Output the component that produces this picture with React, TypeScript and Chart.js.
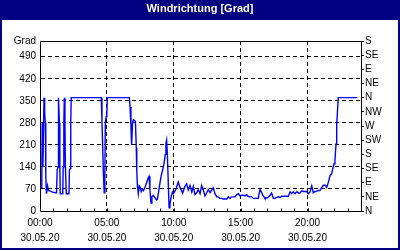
import React, { useEffect, useRef } from 'react';
import { Chart, registerables } from 'chart.js';

Chart.register(...registerables);

// time of each reading in minutes after 00:00 on 30.05.20
const minutes = [
  1, 8, 10, 13, 18, 21, 24, 26, 29, 34, 38, 47, 56, 70, 74, 77, 81, 83, 87, 89,
  91, 102, 104, 107, 109, 112, 114, 118, 130, 132, 136, 138, 140, 275, 278, 281, 284, 288, 291, 293,
  297, 300, 302, 401, 404, 408, 411, 415, 419, 428, 432, 434, 437, 441, 445, 450, 454, 459, 464, 471,
  478, 485, 489, 493, 498, 502, 509, 516, 523, 527, 535, 543, 550, 556, 562, 565, 568, 571, 575, 579,
  583, 588, 594, 598, 603, 610, 620, 628, 640, 650, 658, 665, 673, 681, 688, 695, 703, 710, 718, 725,
  733, 740, 748, 755, 763, 770, 777, 785, 793, 800, 807, 815, 822, 830, 838, 845, 852, 860, 867, 875,
  882, 890, 897, 905, 912, 920, 927, 934, 942, 950, 957, 964, 972, 979, 987, 995, 999, 1005, 1009, 1020,
  1025, 1032, 1039, 1047, 1054, 1062, 1069, 1077, 1084, 1091, 1099, 1107, 1114, 1122, 1129, 1136, 1144, 1152, 1159, 1166,
  1174, 1181, 1189, 1196, 1204, 1211, 1219, 1226, 1234, 1241, 1248, 1256, 1264, 1271, 1279, 1286, 1293, 1301, 1309, 1313,
  1319, 1323, 1328, 1331, 1334, 1338, 1424,
];

// wind direction in degrees
const degrees = [
  75, 75, 280, 140, 360, 310, 280, 110, 55, 80, 65, 63, 60, 58, 58, 130, 140, 360, 280, 140,
  55, 55, 140, 280, 360, 280, 140, 55, 55, 130, 135, 280, 360, 360, 280, 210, 130, 58, 110, 280,
  300, 310, 360, 360, 330, 270, 210, 280, 290, 285, 200, 130, 80, 55, 80, 75, 62, 70, 65, 75,
  90, 105, 110, 70, 25, 45, 50, 42, 35, 38, 75, 110, 130, 150, 180, 215, 225, 185, 100, 10,
  20, 45, 60, 55, 60, 70, 92, 75, 57, 78, 86, 67, 81, 60, 78, 52, 58, 68, 55, 81,
  66, 48, 58, 68, 58, 66, 74, 55, 45, 45, 40, 40, 38, 38, 38, 45, 40, 45, 45, 45,
  52, 55, 48, 50, 50, 48, 52, 46, 45, 45, 40, 40, 40, 40, 68, 58, 50, 45, 40, 42,
  45, 50, 57, 40, 40, 43, 45, 43, 47, 47, 47, 47, 47, 61, 55, 61, 55, 61, 57, 57,
  64, 62, 62, 62, 55, 60, 80, 58, 62, 63, 65, 65, 75, 82, 82, 75, 90, 112, 120, 133,
  150, 160, 213, 277, 310, 360, 360,
];

const hourTicks = [0, 5, 10, 15, 20];
const dateLabel = '30.05.20';
const leftTicks = [0, 70, 140, 210, 280, 350, 420, 490];
const leftUnitLabel = 'Grad';
const compass = ['N', 'NE', 'E', 'SE', 'S', 'SW', 'W', 'NW', 'N', 'NE', 'E', 'SE', 'S'];
const title = 'Windrichtung [Grad]';

const NAVY = '#000080';
const AXIS_MAX = 540;

export default function App() {
  const ref = useRef<HTMLCanvasElement>(null);

  useEffect(() => {
    document.body.style.margin = '0';
    const canvas = ref.current;
    if (!canvas) return;

    const framePlugin = {
      id: 'frame',
      beforeDraw(chart: any) {
        const ctx = chart.ctx;
        ctx.save();
        ctx.fillStyle = '#ffffff';
        ctx.fillRect(0, 0, chart.width, chart.height);
        ctx.fillStyle = NAVY;
        ctx.fillRect(0, 0, chart.width, 20);
        ctx.strokeStyle = NAVY;
        ctx.lineWidth = 2;
        ctx.strokeRect(1, 1, chart.width - 2, chart.height - 2);
        ctx.restore();
      },
      afterDraw(chart: any) {
        const ctx = chart.ctx;
        const a = chart.chartArea;
        const xs = chart.scales.x;
        ctx.save();
        ctx.strokeStyle = '#000';
        ctx.lineWidth = 1;
        ctx.beginPath();
        const top = Math.round(a.top) + 0.5;
        ctx.moveTo(Math.round(a.left), top);
        ctx.lineTo(Math.round(a.right) + 1, top);
        const bottom = Math.round(a.bottom) + 0.5;
        for (let h = 0; h <= 24; h++) {
          const px = Math.round(xs.getPixelForValue(h)) + 0.5;
          ctx.moveTo(px, bottom);
          ctx.lineTo(px, bottom - 3);
        }
        ctx.stroke();
        ctx.restore();
      },
    };

    Chart.defaults.font.family = "'Liberation Sans', Arial, sans-serif";
    Chart.defaults.font.size = 10;
    Chart.defaults.color = '#000';

    const chart = new Chart(canvas, {
      type: 'line',
      data: {
        datasets: [
          {
            data: minutes.map((m, i) => ({ x: m / 60, y: degrees[i] })),
            borderColor: '#0000ff',
            borderWidth: 1.4,
            pointRadius: 0,
            tension: 0,
            fill: false,
            yAxisID: 'y',
          },
        ],
      },
      options: {
        animation: false,
        responsive: false,
        events: [],
        layout: { padding: 0 },
        plugins: {
          legend: { display: false },
          tooltip: { enabled: false },
          title: {
            display: true,
            text: title,
            color: '#ffffff',
            font: { size: 11, weight: 'bold', lineHeight: 1.2 },
            padding: { top: 2, bottom: 25.8 },
          },
        },
        scales: {
          x: {
            type: 'linear',
            min: 0,
            max: 24,
            afterBuildTicks: (s: any) => {
              s.ticks = hourTicks.map((v) => ({ value: v }));
            },
            afterFit: (s: any) => {
              s.height = 39;
            },
            ticks: {
              autoSkip: false,
              maxRotation: 0,
              padding: 5,
              font: { size: 10, lineHeight: 1.5 },
              callback: (v: any) => [String(v).padStart(2, '0') + ':00', dateLabel],
            },
            grid: {
              color: (c: any) => (c.tick && c.tick.value === 0 ? 'rgba(0,0,0,0)' : '#000'),
              lineWidth: 1,
              drawTicks: false,
            },
            border: { color: '#000', width: 1, dash: [4, 3] },
          },
          y: {
            position: 'left',
            min: 0,
            max: AXIS_MAX,
            afterBuildTicks: (s: any) => {
              s.ticks = [...leftTicks, AXIS_MAX].map((v) => ({ value: v }));
            },
            afterFit: (s: any) => {
              s.width = 40;
            },
            ticks: {
              autoSkip: false,
              padding: 4,
              callback: (v: any) => (v === AXIS_MAX ? leftUnitLabel : String(v)),
            },
            grid: {
              color: (c: any) =>
                c.tick && (c.tick.value === 0 || c.tick.value === AXIS_MAX) ? 'rgba(0,0,0,0)' : '#000',
              lineWidth: 1,
              drawTicks: false,
            },
            border: { color: '#000', width: 1, dash: [4, 3] },
          },
          y2: {
            position: 'right',
            min: 0,
            max: AXIS_MAX,
            afterBuildTicks: (s: any) => {
              s.ticks = compass.map((_, i) => ({ value: i * 45 }));
            },
            afterFit: (s: any) => {
              s.width = 39;
            },
            ticks: {
              autoSkip: false,
              padding: 1,
              callback: (v: any) => compass[Math.round(v / 45)],
            },
            grid: {
              drawOnChartArea: false,
              drawTicks: true,
              tickLength: 3,
              color: '#000',
            },
            border: { color: '#000', width: 1 },
          },
        },
      },
      plugins: [framePlugin],
    } as any);

    return () => chart.destroy();
  }, []);

  return <canvas ref={ref} width={400} height={250} style={{ display: 'block', width: 400, height: 250 }} />;
}
